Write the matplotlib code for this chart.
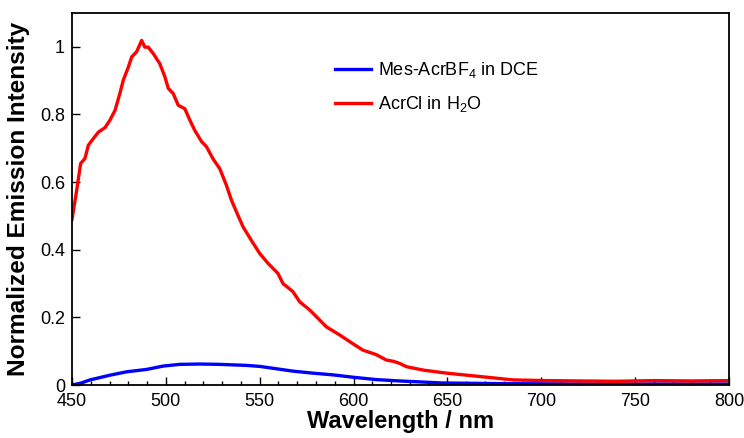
import matplotlib
matplotlib.use("Agg")
import matplotlib.pyplot as plt
from matplotlib.ticker import MultipleLocator, FuncFormatter

plt.rcParams['font.family'] = ['Liberation Sans', 'DejaVu Sans']
plt.rcParams['mathtext.fontset'] = 'custom'
plt.rcParams['mathtext.rm'] = 'Liberation Sans'
plt.rcParams['mathtext.it'] = 'Liberation Sans'
plt.rcParams['mathtext.default'] = 'regular'

# Mes-AcrBF4 in DCE (blue)
blue_wl = [450, 450.7, 455, 459.6, 470.2, 479.1, 489.7, 498.6, 507.4, 518.1, 528.7,
           542.9, 550, 558.9, 567.7, 578.4, 589, 599.7, 612, 624.5, 647, 680, 720, 760, 800]
blue_int = [0.0, 0.001, 0.006, 0.015, 0.029, 0.039, 0.046, 0.056, 0.061, 0.062, 0.061,
            0.058, 0.055, 0.048, 0.041, 0.035, 0.030, 0.023, 0.016, 0.012, 0.006, 0.004,
            0.003, 0.003, 0.003]

# AcrCl in H2O (red)
red_wl = [450.0, 450.3, 452.5, 454.6, 456.9, 458.7, 461.4, 464.1, 467.6, 470.2, 472.9,
          475.5, 477.3, 480.0, 481.8, 484.4, 487.1, 488.8, 490.6, 493.3, 496.8, 499.5,
          501.3, 503.9, 506.6, 510.1, 512.8, 515.4, 519.0, 521.6, 525.2, 528.7, 532.3,
          534.9, 537.6, 541.1, 545.5, 550, 554.4, 559.7, 562.4, 567.7, 571.3, 576.6,
          580.2, 585.5, 592.6, 598, 605, 612, 617.4, 621.2, 624.5, 628.3, 637.2, 649.6,
          667.4, 685.2, 702.9, 720.7, 740, 760, 780, 800]
red_int = [0.49, 0.50, 0.576, 0.655, 0.67, 0.709, 0.729, 0.748, 0.761, 0.783, 0.812,
           0.862, 0.901, 0.940, 0.970, 0.985, 1.019, 0.999, 0.999, 0.98, 0.95, 0.911,
           0.877, 0.862, 0.827, 0.817, 0.783, 0.753, 0.72, 0.705, 0.668, 0.640, 0.590,
           0.547, 0.512, 0.468, 0.428, 0.389, 0.360, 0.330, 0.300, 0.276, 0.246, 0.222,
           0.202, 0.172, 0.148, 0.128, 0.103, 0.090, 0.074, 0.070, 0.064, 0.054, 0.044,
           0.035, 0.025, 0.015, 0.013, 0.012, 0.011, 0.013, 0.012, 0.013]

labels = ['Mes-AcrBF$_4$ in DCE', 'AcrCl in H$_2$O']
x_ticks = [450, 500, 550, 600, 650, 700, 750, 800]
y_ticks = [0, 0.2, 0.4, 0.6, 0.8, 1]

fig = plt.figure(figsize=(7.44, 4.38), dpi=100)
ax = fig.add_axes([72/744, 1 - 385/438, (729-72)/744, (385-13)/438])

ax.plot(blue_wl, blue_int, color='#0000ff', lw=2.4, label=labels[0])
ax.plot(red_wl, red_int, color='#ff0000', lw=2.4, label=labels[1])

ax.set_xlim(450, 800)
ax.set_ylim(0, 1.1)
ax.set_xticks(x_ticks)
ax.set_yticks(y_ticks)
ax.xaxis.set_minor_locator(MultipleLocator(10))
ax.yaxis.set_major_formatter(FuncFormatter(lambda v, p: ('%g' % v)))

for s in ax.spines.values():
    s.set_linewidth(1.3)
ax.tick_params(axis='both', which='major', direction='in', length=5.5, width=1.0,
               labelsize=13, top=False, right=False)
ax.tick_params(axis='x', which='major', pad=5.5)
ax.tick_params(axis='y', which='major', pad=5)
ax.tick_params(axis='x', which='minor', direction='in', length=3, width=1.0, top=False)

ax.set_xlabel('Wavelength / nm', fontsize=17, fontweight='bold', labelpad=0)
ax.set_ylabel('Normalized Emission Intensity', fontsize=17.6, fontweight='bold', labelpad=7)

ax.legend(loc='upper left', bbox_to_anchor=(335/744, 1 - 60/438),
          bbox_transform=fig.transFigure, frameon=False, fontsize=13,
          handlelength=2.0, handletextpad=0.4, labelspacing=0.8, borderpad=0,
          borderaxespad=0)

fig.savefig('out.png', dpi=100)
